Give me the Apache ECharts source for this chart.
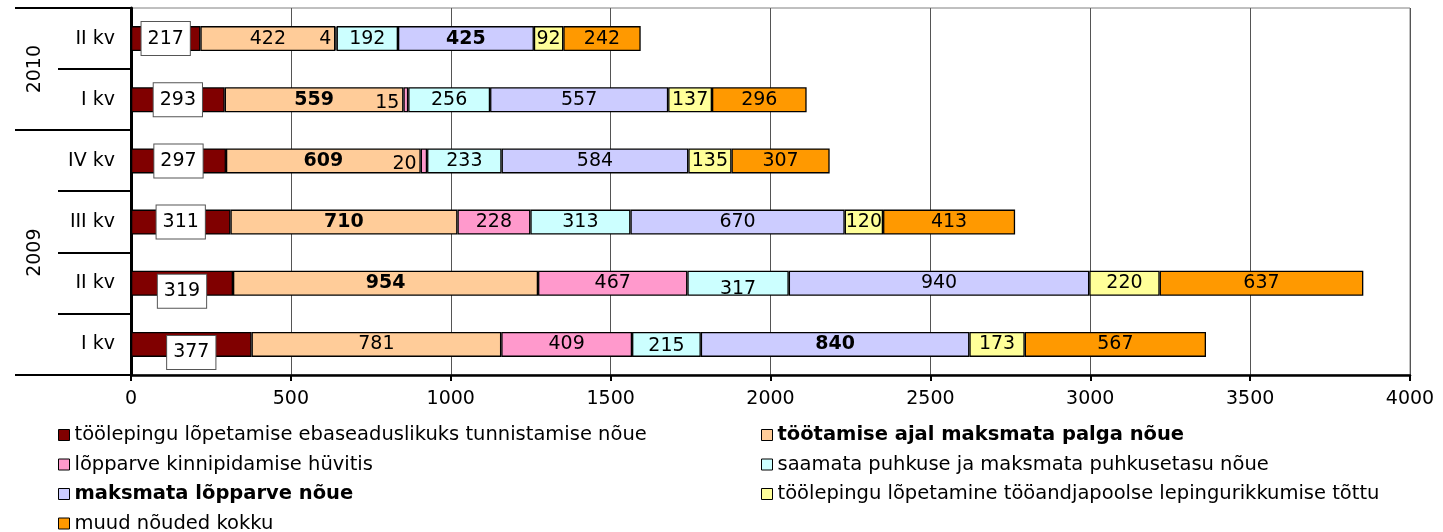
<!DOCTYPE html>
<html><head><meta charset="utf-8">
<script src="https://cdn.jsdelivr.net/npm/echarts@6/dist/echarts.min.js"></script>
<style>html,body{margin:0;padding:0;background:#fff}#c{width:1443px;height:532px}</style>
</head><body><div id="c"></div>
<script>
// ---- data ----
const categories = ['I kv', 'II kv', 'III kv', 'IV kv', 'I kv', 'II kv'];
const yearGroups = ['2009', '2010'];
const yearGroupSizes = [4, 2];
const seriesNames = [
  'töölepingu lõpetamise ebaseaduslikuks tunnistamise nõue',
  'töötamise ajal maksmata palga nõue',
  'lõpparve kinnipidamise hüvitis',
  'saamata puhkuse ja maksmata puhkusetasu nõue',
  'maksmata lõpparve nõue',
  'töölepingu lõpetamine tööandjapoolse lepingurikkumise tõttu',
  'muud nõuded kokku'
];
const vEbaseaduslik = [377, 319, 311, 297, 293, 217];
const vPalk = [781, 954, 710, 609, 559, 422];
const vKinnipidamine = [409, 467, 228, 20, 15, 4];
const vPuhkus = [215, 317, 313, 233, 256, 192];
const vLopparve = [840, 940, 670, 584, 557, 425];
const vRikkumine = [173, 220, 120, 135, 137, 92];
const vMuud = [567, 637, 413, 307, 296, 242];
const allValues = [vEbaseaduslik, vPalk, vKinnipidamine, vPuhkus, vLopparve, vRikkumine, vMuud];

// ---- style ----
const colors = ['#800000', '#FFCC99', '#FF99CC', '#CCFFFF', '#CCCCFF', '#FFFF99', '#FF9900'];
const FONT = 'DejaVu Sans';
const boldLegend = [1, 4];
const labelShift = { '0-0': [0, 8], '0-1': [0, 8], '2-3': [0, 3], '2-4': [0, 3], '3-1': [0, 6], '3-0': [0, 2] };

const maxPerBar = categories.map((c, i) => Math.max(...allValues.map(a => a[i])));

const series = allValues.map((vals, si) => ({
  name: seriesNames[si],
  type: 'bar',
  stack: 'total',
  barWidth: 25,
  itemStyle: { color: colors[si], borderColor: '#000', borderWidth: 1.3 },
  label: {
    show: true,
    position: 'inside',
    color: '#000',
    fontFamily: FONT,
    fontSize: 19,
    ...(si === 0 ? {
      backgroundColor: '#fff', borderColor: '#555', borderWidth: 1,
      padding: [6, 6], lineHeight: 21
    } : {})
  },
  data: vals.map((v, i) => {
    const lab = { fontWeight: v === maxPerBar[i] ? 'bold' : 'normal' };
    if (si === 2 && v < 50) { lab.position = 'left'; lab.distance = 4; }
    const sh = labelShift[si + '-' + i];
    if (sh) lab.offset = sh;
    return { value: v, label: lab };
  })
}));

const chart = echarts.init(document.getElementById('c'), null, { renderer: 'canvas' });

const legendData = (idxs) => idxs.map(i => ({
  name: seriesNames[i],
  textStyle: { fontWeight: boldLegend.includes(i) ? 'bold' : 'normal' }
}));
const legendCommon = {
  orient: 'vertical',
  top: 425,
  height: 140,
  itemWidth: 11, itemHeight: 11,
  itemGap: 9.5,
  icon: 'rect',
  padding: 0,
  itemStyle: { borderColor: '#000', borderWidth: 1 },
  textStyle: { fontFamily: FONT, fontSize: 19.5, color: '#000', lineHeight: 20 },
  selectedMode: false
};

chart.setOption({
  animation: false,
  backgroundColor: '#fff',
  textStyle: { fontFamily: FONT },
  grid: { left: 131, right: 33, top: 8, bottom: 157, show: true, borderColor: '#808080', borderWidth: 1, backgroundColor: 'transparent' },
  xAxis: {
    type: 'value', min: 0, max: 4000, interval: 500,
    axisLine: { show: true, lineStyle: { color: '#000', width: 2.5 } },
    axisTick: { show: true, length: 6, lineStyle: { color: '#000', width: 2 } },
    axisLabel: { fontFamily: FONT, fontSize: 19, color: '#000', margin: 15, formatter: v => String(v) },
    splitLine: { show: true, lineStyle: { color: '#555', width: 1 } }
  },
  yAxis: {
    type: 'category', data: categories,
    axisLine: { show: true, lineStyle: { color: '#000', width: 3 } },
    axisTick: { show: false },
    axisLabel: { fontFamily: FONT, fontSize: 19, color: '#000', margin: 16 },
    splitLine: { show: false }
  },
  legend: [
    Object.assign({}, legendCommon, { left: 58, data: legendData([0, 2, 4, 6]) }),
    Object.assign({}, legendCommon, { left: 761, data: legendData([1, 3, 5]) })
  ],
  series: series
});

// category separators and year group labels, positioned through the axis scale
const yc = i => chart.convertToPixel({ yAxisIndex: 0 }, i);
const x0 = chart.convertToPixel({ xAxisIndex: 0 }, 0);
const band = yc(0) - yc(1);
const boundary = k => yc(0) + band / 2 - k * band;
const groupBounds = [0];
yearGroupSizes.forEach(s => groupBounds.push(groupBounds[groupBounds.length - 1] + s));
const graphics = [];
for (let k = 0; k <= categories.length; k++) {
  const long = groupBounds.includes(k);
  const y = Math.round(boundary(k));
  graphics.push({
    type: 'line', z: 100,
    shape: { x1: long ? 15 : 58, y1: y, x2: x0, y2: y },
    style: { stroke: '#000', lineWidth: 2 }
  });
}
yearGroups.forEach((g, gi) => {
  const yMid = (boundary(groupBounds[gi]) + boundary(groupBounds[gi + 1])) / 2;
  graphics.push({
    type: 'text', z: 100,
    x: 35, y: yMid, rotation: Math.PI / 2,
    style: { text: g, fontFamily: FONT, fontSize: 19, fill: '#000', align: 'center', verticalAlign: 'middle' }
  });
});
chart.setOption({ graphic: graphics });
</script>
</body></html>
